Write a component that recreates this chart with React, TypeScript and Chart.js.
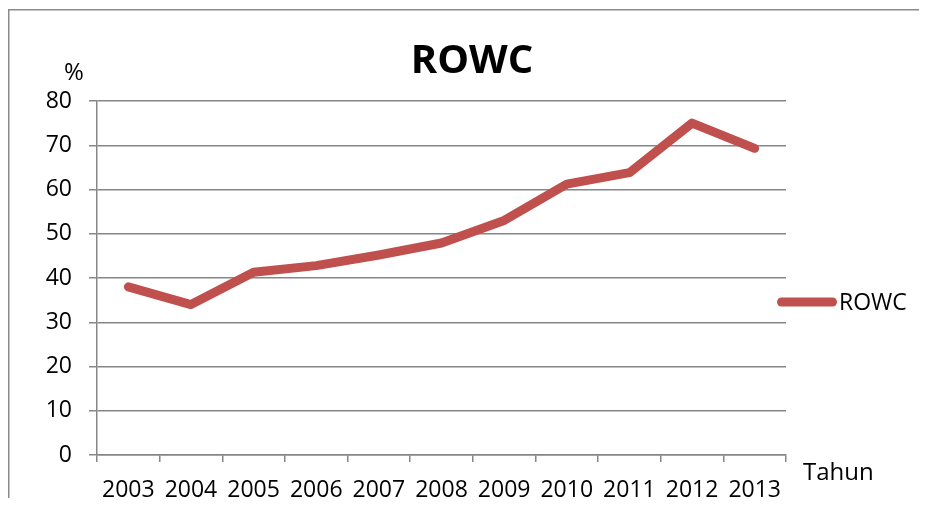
import React, { useEffect, useRef } from "react";
import { Chart, registerables } from "chart.js";

Chart.register(...registerables);

// Tahun (x axis categories)
const years = ["2003", "2004", "2005", "2006", "2007", "2008", "2009", "2010", "2011", "2012", "2013"];
// ROWC (%) per year
const rowc = [38, 34, 41.3, 42.8, 45.2, 47.9, 53, 61.2, 63.8, 75, 69.3];
// y axis range
const yMin = 0;
const yMax = 80;
const yStep = 10;

const FONT = "'Open Sans', 'Liberation Sans', sans-serif";
const LINE_COLOR = "#c0504d";
const GRID_COLOR = "#868686";

// Draws the frame, title, axis captions and the legend entry
const decorPlugin = {
  id: "decor",
  afterDraw(chart: any) {
    const ctx = chart.ctx as CanvasRenderingContext2D;
    ctx.save();

    // outer frame (left and top edges)
    ctx.strokeStyle = "#8a8a8a";
    ctx.lineWidth = 1.5;
    ctx.beginPath();
    ctx.moveTo(0.75, chart.height);
    ctx.lineTo(0.75, 1.75);
    ctx.lineTo(chart.width, 1.75);
    ctx.stroke();

    ctx.fillStyle = "#000";
    ctx.textBaseline = "alphabetic";

    // title
    ctx.font = `bold 40px ${FONT}`;
    ctx.textAlign = "center";
    ctx.fillText("ROWC", 464, 65);

    // axis captions
    ctx.font = `24px ${FONT}`;
    ctx.textAlign = "left";
    ctx.fillText("%", 56, 72);
    ctx.fillText("Tahun", 795, 472);

    // legend entry
    const ds = chart.data.datasets[0];
    ctx.strokeStyle = ds.borderColor;
    ctx.lineWidth = 9;
    ctx.lineCap = "round";
    ctx.beginPath();
    ctx.moveTo(773.5, 294);
    ctx.lineTo(824.5, 294);
    ctx.stroke();
    ctx.font = `23px ${FONT}`;
    ctx.fillText(ds.label, 831, 302);

    ctx.restore();
  },
};

export default function App() {
  const ref = useRef<HTMLCanvasElement | null>(null);

  useEffect(() => {
    if (!ref.current) return;
    const chart = new Chart(ref.current, {
      type: "line",
      data: {
        labels: years,
        datasets: [
          {
            label: "ROWC",
            data: rowc,
            borderColor: LINE_COLOR,
            backgroundColor: LINE_COLOR,
            borderWidth: 9,
            borderCapStyle: "round",
            borderJoinStyle: "round",
            pointRadius: 0,
            pointHoverRadius: 0,
            tension: 0,
          },
        ],
      },
      options: {
        responsive: false,
        animation: false,
        layout: { padding: { left: 0, top: 93, right: 141, bottom: 0 } },
        plugins: {
          legend: { display: false },
          title: { display: false },
          tooltip: { enabled: false },
        },
        scales: {
          x: {
            type: "category",
            offset: true,
            grid: {
              offset: true,
              drawOnChartArea: false,
              drawTicks: true,
              tickLength: 7,
              color: GRID_COLOR,
              lineWidth: 1.5,
            },
            border: { color: GRID_COLOR, width: 1.5 },
            ticks: {
              color: "#000",
              font: { family: FONT, size: 23 },
              padding: 15,
              maxRotation: 0,
              autoSkip: false,
            },
            afterFit(scale: any) {
              scale.height = 43;
            },
          },
          y: {
            min: yMin,
            max: yMax,
            grid: { color: GRID_COLOR, lineWidth: 1.5, tickLength: 8 },
            border: { color: GRID_COLOR, width: 1.5 },
            ticks: {
              stepSize: yStep,
              color: "#000",
              font: { family: FONT, size: 23 },
              padding: 17,
            },
            afterFit(scale: any) {
              scale.width = 89;
            },
          },
        },
      },
      plugins: [decorPlugin],
    });
    return () => chart.destroy();
  }, []);

  return <canvas ref={ref} width={919} height={490} style={{ display: "block" }} />;
}
